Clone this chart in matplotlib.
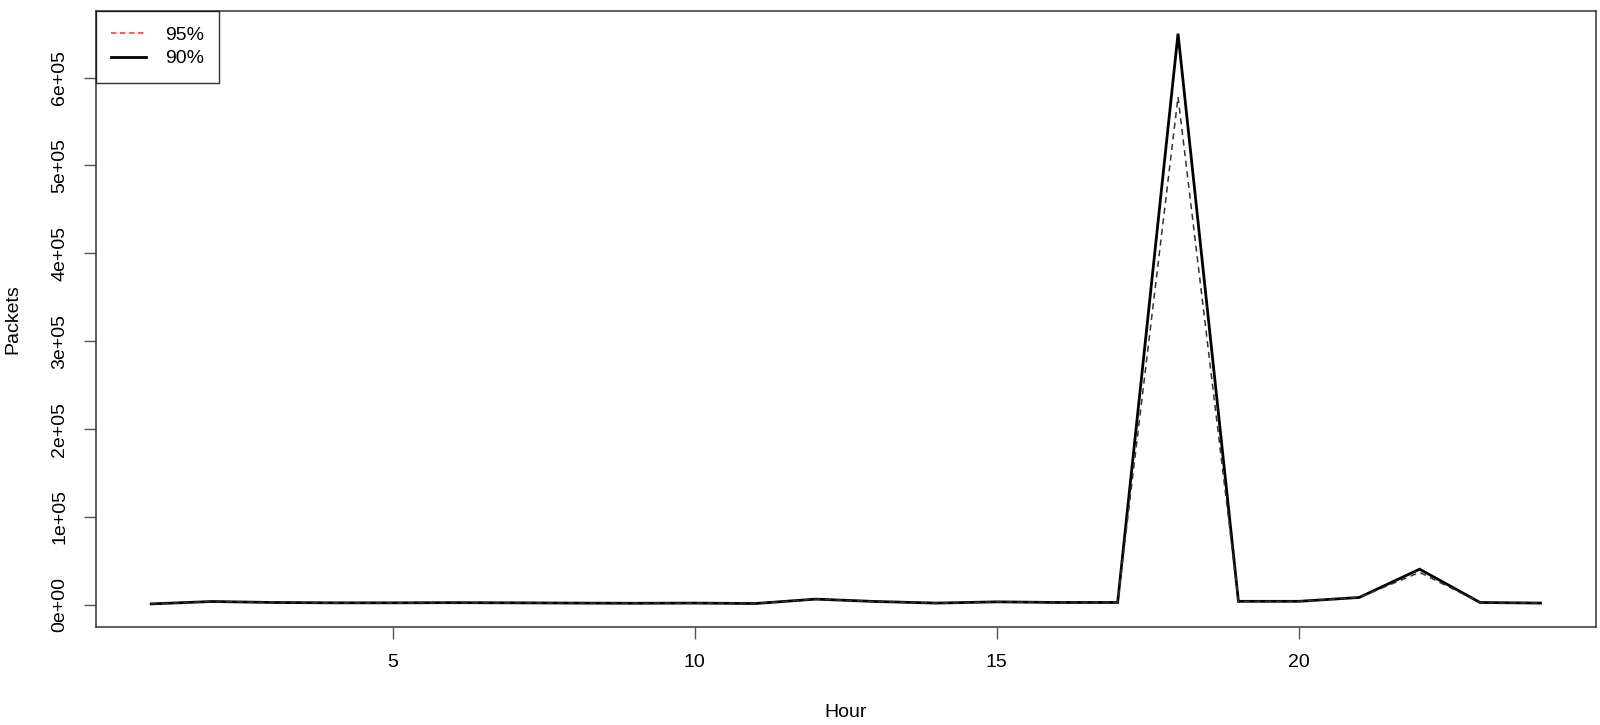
import matplotlib
matplotlib.use("Agg")
import matplotlib.pyplot as plt

# hourly packet counts
hours = list(range(1, 25))
p95 = [1100, 3800, 2700, 2300, 2300, 2500, 2300, 2000, 1800, 2000, 1500, 6500,
       3800, 2000, 3400, 2700, 2700, 578000, 4000, 4000, 8400, 37000, 2700, 2000]
p90 = [1100, 3800, 2700, 2300, 2300, 2500, 2300, 2000, 1800, 2000, 1500, 6500,
       3800, 2000, 3400, 2700, 2700, 650000, 4000, 4000, 8400, 40600, 2700, 2000]
labels = ["95%", "90%"]
yticks = [0, 100000, 200000, 300000, 400000, 500000, 600000]
ytick_labels = ["0e+00", "1e+05", "2e+05", "3e+05", "4e+05", "5e+05", "6e+05"]
xticks = [5, 10, 15, 20]

plt.rcParams['font.family'] = ['Liberation Sans', 'DejaVu Sans']

fig = plt.figure(figsize=(16, 7.25), dpi=100)
ax = fig.add_axes([0.0598, 0.1356, 0.9377, 0.8494])

ax.plot(hours, p90, color="black", lw=2.0, solid_joinstyle="miter", zorder=2)
ax.plot(hours, p95, color="#333333", lw=1.1, ls=(0, (4, 3)), zorder=3)

# R style 4% padding
lo = min(min(p90), min(p95))
hi = max(max(p90), max(p95))
pad = 0.04 * (hi - lo)
ax.set_ylim(lo - pad, hi + pad)
ax.set_xlim(1 - 0.04 * 23, 24 + 0.04 * 23)

ax.set_xticks(xticks)
ax.set_yticks(yticks)
ax.set_yticklabels(ytick_labels, rotation=90, va="center")
ax.tick_params(axis="both", direction="out", length=8.6, width=1, color="#555555",
               labelsize=14)
ax.tick_params(axis="x", pad=11)
ax.tick_params(axis="y", pad=11)
for s in ax.spines.values():
    s.set_linewidth(1.1)
    s.set_color("#333333")

ax.set_xlabel("Hour", fontsize=14, labelpad=24)
ax.set_ylabel("Packets", fontsize=14, labelpad=22)

# legend: the dashed entry is red there, lines in the plot are black
h1, = ax.plot([], [], color="#ff4d4d", lw=1.3, ls=(0, (3, 2)))
h2, = ax.plot([], [], color="black", lw=2.0)
leg = ax.legend([h1, h2], labels, loc="upper left", bbox_to_anchor=(0, 1),
                borderaxespad=0, fancybox=False, fontsize=14, handlelength=1.8,
                handletextpad=0.95, borderpad=0.8, labelspacing=0.3)
leg.get_frame().set_edgecolor("black")
leg.get_frame().set_linewidth(1.0)

fig.savefig("out.png", dpi=100)
